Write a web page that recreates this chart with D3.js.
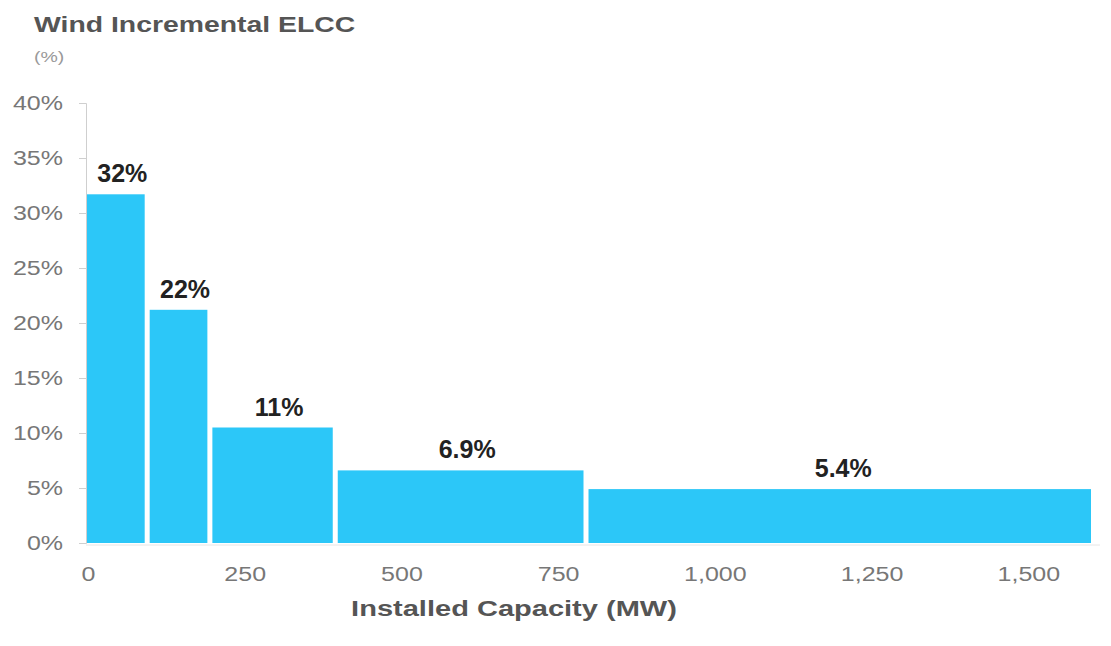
<!DOCTYPE html>
<html>
<head>
<meta charset="utf-8">
<script src="https://cdn.jsdelivr.net/npm/d3@7"></script>
<style>
  body { margin: 0; background: #fff; }
  svg { display: block; }
</style>
</head>
<body>
<div id="chart"></div>
<script>
// capacity blocks (MW) and incremental ELCC (%)
var blockStart = [0, 100, 200, 400, 800];
var blockEnd = [100, 200, 400, 800, 1600];
var elcc = [31.7, 21.2, 10.5, 6.6, 4.9];
var barLabels = ["32%", "22%", "11%", "6.9%", "5.4%"];
var yTicks = [0, 5, 10, 15, 20, 25, 30, 35, 40];
var xTicks = [0, 250, 500, 750, 1000, 1250, 1500];

var width = 1111, height = 646;
var stretch = "scale(1.25,1)";   // source text is drawn wide

var svg = d3.select("#chart")
    .append("svg")
    .attr("width", width)
    .attr("height", height)
    .style("font-family", "'Liberation Sans', Arial, sans-serif");

var x = d3.scaleLinear().domain([0, 1600]).range([88, 1091]);
var y = d3.scaleLinear().domain([0, 40]).range([543, 103]);

var data = elcc.map(function(v, i) {
    return {start: blockStart[i], end: blockEnd[i], value: v, label: barLabels[i]};
});

// baseline
svg.append("line")
    .attr("x1", x(0) - 2).attr("x2", 1100)
    .attr("y1", y(0) + 2).attr("y2", y(0) + 2)
    .attr("stroke", "#e6e6e6");

// y axis
var yAxis = svg.append("g")
    .attr("transform", "translate(86,0)")
    .call(d3.axisLeft(y).tickValues(yTicks).tickSize(7).tickFormat(function(d) { return d + "%"; }));
yAxis.select(".domain").attr("stroke", "#cfcfcf");
yAxis.selectAll(".tick line").attr("stroke", "#cfcfcf");
yAxis.selectAll(".tick text")
    .attr("x", 0)
    .attr("transform", "translate(-23,0) " + stretch)
    .attr("fill", "#777")
    .style("font-size", "20px");

// x axis
var xAxis = svg.append("g")
    .attr("transform", "translate(0," + y(0) + ")")
    .call(d3.axisBottom(x).tickValues(xTicks).tickSize(0).tickFormat(d3.format(",")));
xAxis.select(".domain").remove();
xAxis.selectAll(".tick text")
    .attr("y", 0)
    .attr("dy", 0)
    .attr("transform", "translate(0,38) " + stretch)
    .attr("fill", "#777")
    .style("font-size", "20px");

// bars
svg.selectAll(".bar")
    .data(data)
    .join("rect")
    .attr("class", "bar")
    .attr("x", function(d) { return x(d.start) - 1; })
    .attr("y", function(d) { return y(d.value); })
    .attr("width", function(d, i) {
        var gap = i < data.length - 1 ? 6 : 0;
        return x(d.end) - x(d.start) - gap + 1;
    })
    .attr("height", function(d) { return y(0) - y(d.value); })
    .attr("fill", "#2cc7f8");

svg.selectAll(".bar-label")
    .data(data)
    .join("text")
    .attr("class", "bar-label")
    .attr("x", function(d) { return (x(d.start) + x(d.end)) / 2 + 3; })
    .attr("y", function(d) { return y(d.value) - 12; })
    .attr("text-anchor", "middle")
    .attr("font-weight", "bold")
    .attr("font-size", "25px")
    .attr("fill", "#222")
    .text(function(d) { return d.label; });

// titles
svg.append("text")
    .attr("transform", "translate(34,32) scale(1.29,1)")
    .attr("font-weight", "bold")
    .attr("font-size", "22px")
    .attr("fill", "#555")
    .text("Wind Incremental ELCC");

svg.append("text")
    .attr("transform", "translate(34,62) scale(1.3,1)")
    .attr("font-size", "15px")
    .attr("fill", "#999")
    .text("(%)");

svg.append("text")
    .attr("transform", "translate(514,616) scale(1.32,1)")
    .attr("text-anchor", "middle")
    .attr("font-weight", "bold")
    .attr("font-size", "22px")
    .attr("fill", "#555")
    .text("Installed Capacity (MW)");
</script>
</body>
</html>
